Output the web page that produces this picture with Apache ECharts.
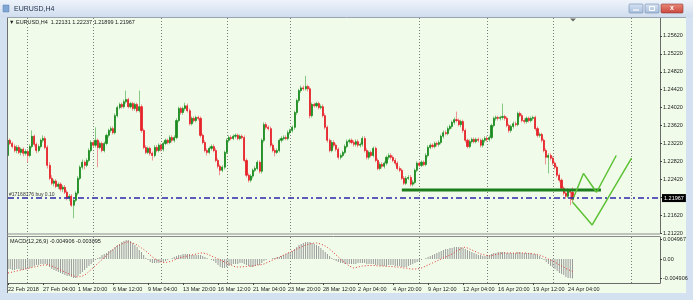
<!DOCTYPE html>
<html><head><meta charset="utf-8">
<script src="https://cdn.jsdelivr.net/npm/echarts@6.0.0/dist/echarts.min.js"></script>
<style>html,body{margin:0;padding:0;background:#d3e1f1}#c{width:693px;height:300px}</style>
</head><body><div id="c"></div><script>
// ---- data ----
const timeLabels = ["22 Feb 2018","27 Feb 04:00","1 Mar 20:00","6 Mar 12:00","9 Mar 04:00","13 Mar 20:00","16 Mar 12:00","21 Mar 04:00","23 Mar 20:00","28 Mar 12:00","2 Apr 04:00","4 Apr 20:00","9 Apr 12:00","12 Apr 04:00","16 Apr 20:00","19 Apr 12:00","24 Apr 04:00"];
const priceTicks = [1.2122,1.2162,1.2202,1.2242,1.2282,1.2322,1.2362,1.2402,1.2442,1.2482,1.2522,1.2562];
const macdTicks = [0.004967, 0, -0.004906];
// [open, close, low, high]
const candles = [
[1.2295,1.2329,1.2262,1.2346],[1.2329,1.2322,1.2318,1.2333],[1.2322,1.2315,1.2311,1.2326],[1.2315,1.2306,1.2302,1.2320],[1.2306,1.2313,1.2300,1.2318],[1.2313,1.2302,1.2298,1.2318],[1.2302,1.2309,1.2295,1.2313],[1.2309,1.2300,1.2293,1.2313],[1.2300,1.2304,1.2295,1.2309],[1.2304,1.2295,1.2280,1.2309],
[1.2295,1.2315,1.2291,1.2320],[1.2315,1.2338,1.2311,1.2351],[1.2338,1.2320,1.2315,1.2342],[1.2320,1.2306,1.2300,1.2324],[1.2306,1.2315,1.2302,1.2320],[1.2315,1.2329,1.2311,1.2333],[1.2329,1.2333,1.2324,1.2340],[1.2333,1.2313,1.2309,1.2338],[1.2313,1.2273,1.2266,1.2318],[1.2273,1.2244,1.2240,1.2280],
[1.2244,1.2233,1.2229,1.2251],[1.2233,1.2238,1.2226,1.2242],[1.2238,1.2226,1.2222,1.2242],[1.2226,1.2231,1.2220,1.2235],[1.2231,1.2220,1.2215,1.2235],[1.2220,1.2224,1.2213,1.2229],[1.2224,1.2213,1.2209,1.2229],[1.2213,1.2200,1.2195,1.2218],[1.2200,1.2204,1.2193,1.2209],[1.2204,1.2184,1.2180,1.2209],
[1.2184,1.2195,1.2155,1.2198],[1.2195,1.2211,1.2191,1.2215],[1.2211,1.2244,1.2206,1.2249],[1.2244,1.2269,1.2240,1.2273],[1.2269,1.2280,1.2264,1.2286],[1.2280,1.2273,1.2264,1.2284],[1.2273,1.2284,1.2269,1.2289],[1.2284,1.2306,1.2280,1.2311],[1.2306,1.2324,1.2302,1.2329],[1.2324,1.2318,1.2313,1.2329],
[1.2318,1.2329,1.2313,1.2358],[1.2329,1.2313,1.2269,1.2333],[1.2313,1.2322,1.2309,1.2326],[1.2322,1.2306,1.2302,1.2326],[1.2306,1.2322,1.2302,1.2326],[1.2322,1.2340,1.2318,1.2344],[1.2340,1.2351,1.2335,1.2355],[1.2351,1.2355,1.2346,1.2360],[1.2355,1.2346,1.2342,1.2360],[1.2346,1.2384,1.2342,1.2389],
[1.2384,1.2402,1.2380,1.2406],[1.2402,1.2409,1.2398,1.2413],[1.2409,1.2404,1.2400,1.2413],[1.2404,1.2415,1.2400,1.2420],[1.2415,1.2420,1.2411,1.2440],[1.2420,1.2404,1.2400,1.2424],[1.2404,1.2411,1.2400,1.2415],[1.2411,1.2400,1.2395,1.2415],[1.2400,1.2409,1.2395,1.2413],[1.2409,1.2395,1.2391,1.2413],
[1.2395,1.2404,1.2391,1.2440],[1.2404,1.2351,1.2346,1.2409],[1.2351,1.2313,1.2309,1.2355],[1.2313,1.2302,1.2298,1.2318],[1.2302,1.2311,1.2298,1.2315],[1.2311,1.2300,1.2295,1.2315],[1.2300,1.2295,1.2284,1.2304],[1.2295,1.2313,1.2291,1.2318],[1.2313,1.2306,1.2302,1.2318],[1.2306,1.2318,1.2302,1.2322],
[1.2318,1.2309,1.2304,1.2322],[1.2309,1.2322,1.2304,1.2326],[1.2322,1.2329,1.2318,1.2333],[1.2329,1.2324,1.2320,1.2333],[1.2324,1.2335,1.2320,1.2340],[1.2335,1.2329,1.2324,1.2340],[1.2329,1.2335,1.2324,1.2340],[1.2335,1.2373,1.2331,1.2378],[1.2373,1.2400,1.2369,1.2404],[1.2400,1.2391,1.2386,1.2404],
[1.2391,1.2400,1.2386,1.2404],[1.2400,1.2406,1.2395,1.2413],[1.2406,1.2395,1.2391,1.2411],[1.2395,1.2366,1.2362,1.2400],[1.2366,1.2378,1.2362,1.2382],[1.2378,1.2373,1.2369,1.2382],[1.2373,1.2380,1.2369,1.2384],[1.2380,1.2378,1.2373,1.2384],[1.2378,1.2340,1.2335,1.2382],[1.2340,1.2324,1.2320,1.2344],
[1.2324,1.2306,1.2302,1.2329],[1.2306,1.2302,1.2295,1.2311],[1.2302,1.2311,1.2298,1.2315],[1.2311,1.2315,1.2306,1.2320],[1.2315,1.2306,1.2302,1.2320],[1.2306,1.2284,1.2280,1.2311],[1.2284,1.2271,1.2266,1.2289],[1.2271,1.2262,1.2251,1.2275],[1.2262,1.2269,1.2258,1.2273],[1.2269,1.2302,1.2264,1.2306],
[1.2302,1.2329,1.2298,1.2333],[1.2329,1.2335,1.2324,1.2340],[1.2335,1.2333,1.2329,1.2340],[1.2333,1.2338,1.2329,1.2342],[1.2338,1.2340,1.2333,1.2344],[1.2340,1.2333,1.2329,1.2344],[1.2333,1.2338,1.2329,1.2342],[1.2338,1.2335,1.2331,1.2342],[1.2335,1.2284,1.2280,1.2340],[1.2284,1.2251,1.2246,1.2289],
[1.2251,1.2240,1.2235,1.2255],[1.2240,1.2249,1.2235,1.2253],[1.2249,1.2262,1.2244,1.2266],[1.2262,1.2266,1.2258,1.2271],[1.2266,1.2280,1.2262,1.2284],[1.2280,1.2260,1.2255,1.2284],[1.2260,1.2329,1.2255,1.2333],[1.2329,1.2364,1.2324,1.2369],[1.2364,1.2358,1.2353,1.2369],[1.2358,1.2355,1.2351,1.2362],
[1.2355,1.2318,1.2313,1.2360],[1.2318,1.2306,1.2302,1.2322],[1.2306,1.2302,1.2293,1.2311],[1.2302,1.2306,1.2298,1.2311],[1.2306,1.2329,1.2302,1.2333],[1.2329,1.2333,1.2324,1.2338],[1.2333,1.2335,1.2329,1.2340],[1.2335,1.2333,1.2329,1.2340],[1.2333,1.2346,1.2329,1.2351],[1.2346,1.2351,1.2342,1.2355],
[1.2351,1.2358,1.2346,1.2362],[1.2358,1.2391,1.2353,1.2395],[1.2391,1.2418,1.2386,1.2422],[1.2418,1.2440,1.2413,1.2444],[1.2440,1.2446,1.2435,1.2451],[1.2446,1.2444,1.2440,1.2451],[1.2444,1.2449,1.2440,1.2473],[1.2449,1.2444,1.2438,1.2453],[1.2444,1.2384,1.2378,1.2449],[1.2384,1.2409,1.2380,1.2413],
[1.2409,1.2406,1.2402,1.2413],[1.2406,1.2411,1.2402,1.2415],[1.2411,1.2402,1.2398,1.2415],[1.2402,1.2404,1.2398,1.2409],[1.2404,1.2384,1.2380,1.2409],[1.2384,1.2358,1.2353,1.2389],[1.2358,1.2329,1.2324,1.2362],[1.2329,1.2306,1.2302,1.2333],[1.2306,1.2324,1.2302,1.2329],[1.2324,1.2318,1.2313,1.2329],
[1.2318,1.2309,1.2304,1.2322],[1.2309,1.2291,1.2286,1.2313],[1.2291,1.2295,1.2286,1.2300],[1.2295,1.2302,1.2291,1.2306],[1.2302,1.2315,1.2298,1.2320],[1.2315,1.2326,1.2311,1.2331],[1.2326,1.2329,1.2322,1.2333],[1.2329,1.2324,1.2320,1.2333],[1.2324,1.2320,1.2315,1.2329],[1.2320,1.2326,1.2315,1.2331],
[1.2326,1.2318,1.2313,1.2331],[1.2318,1.2320,1.2313,1.2324],[1.2320,1.2333,1.2315,1.2338],[1.2333,1.2306,1.2302,1.2338],[1.2306,1.2291,1.2286,1.2311],[1.2291,1.2302,1.2286,1.2306],[1.2302,1.2295,1.2291,1.2306],[1.2295,1.2311,1.2291,1.2315],[1.2311,1.2284,1.2280,1.2315],[1.2284,1.2266,1.2262,1.2289],
[1.2266,1.2275,1.2262,1.2280],[1.2275,1.2271,1.2266,1.2280],[1.2271,1.2278,1.2266,1.2282],[1.2278,1.2291,1.2273,1.2295],[1.2291,1.2295,1.2286,1.2300],[1.2295,1.2291,1.2286,1.2300],[1.2291,1.2284,1.2280,1.2295],[1.2284,1.2278,1.2273,1.2289],[1.2278,1.2266,1.2262,1.2282],[1.2266,1.2262,1.2258,1.2271],
[1.2262,1.2244,1.2240,1.2266],[1.2244,1.2233,1.2229,1.2249],[1.2233,1.2244,1.2229,1.2249],[1.2244,1.2246,1.2240,1.2251],[1.2246,1.2231,1.2226,1.2251],[1.2231,1.2235,1.2226,1.2240],[1.2235,1.2262,1.2231,1.2266],[1.2262,1.2278,1.2258,1.2282],[1.2278,1.2273,1.2269,1.2282],[1.2273,1.2280,1.2269,1.2284],
[1.2280,1.2275,1.2271,1.2284],[1.2275,1.2295,1.2271,1.2300],[1.2295,1.2313,1.2291,1.2318],[1.2313,1.2318,1.2309,1.2322],[1.2318,1.2315,1.2311,1.2322],[1.2315,1.2322,1.2311,1.2326],[1.2322,1.2320,1.2315,1.2326],[1.2320,1.2324,1.2315,1.2329],[1.2324,1.2338,1.2320,1.2342],[1.2338,1.2346,1.2333,1.2351],
[1.2346,1.2344,1.2340,1.2351],[1.2344,1.2355,1.2340,1.2360],[1.2355,1.2360,1.2351,1.2364],[1.2360,1.2369,1.2355,1.2373],[1.2369,1.2375,1.2364,1.2380],[1.2375,1.2373,1.2369,1.2393],[1.2373,1.2364,1.2360,1.2378],[1.2364,1.2371,1.2358,1.2375],[1.2371,1.2351,1.2346,1.2375],[1.2351,1.2329,1.2324,1.2355],
[1.2329,1.2315,1.2311,1.2333],[1.2315,1.2326,1.2311,1.2331],[1.2326,1.2331,1.2322,1.2335],[1.2331,1.2326,1.2322,1.2335],[1.2326,1.2331,1.2322,1.2335],[1.2331,1.2329,1.2324,1.2335],[1.2329,1.2318,1.2313,1.2333],[1.2318,1.2329,1.2313,1.2333],[1.2329,1.2333,1.2324,1.2338],[1.2333,1.2331,1.2326,1.2338],
[1.2331,1.2335,1.2326,1.2340],[1.2335,1.2362,1.2331,1.2366],[1.2362,1.2378,1.2358,1.2382],[1.2378,1.2380,1.2373,1.2384],[1.2380,1.2378,1.2373,1.2384],[1.2378,1.2380,1.2373,1.2384],[1.2380,1.2382,1.2375,1.2411],[1.2382,1.2378,1.2373,1.2386],[1.2378,1.2362,1.2358,1.2382],[1.2362,1.2351,1.2346,1.2366],
[1.2351,1.2360,1.2346,1.2364],[1.2360,1.2366,1.2355,1.2371],[1.2366,1.2364,1.2360,1.2371],[1.2364,1.2389,1.2360,1.2393],[1.2389,1.2384,1.2380,1.2393],[1.2384,1.2373,1.2369,1.2389],[1.2373,1.2371,1.2366,1.2378],[1.2371,1.2378,1.2366,1.2382],[1.2378,1.2373,1.2369,1.2382],[1.2373,1.2378,1.2369,1.2382],
[1.2378,1.2380,1.2373,1.2384],[1.2380,1.2355,1.2351,1.2384],[1.2355,1.2340,1.2335,1.2360],[1.2340,1.2342,1.2335,1.2346],[1.2342,1.2329,1.2324,1.2346],[1.2329,1.2306,1.2302,1.2333],[1.2306,1.2291,1.2275,1.2311],[1.2291,1.2295,1.2255,1.2300],[1.2295,1.2289,1.2284,1.2300],[1.2289,1.2278,1.2273,1.2293],
[1.2278,1.2269,1.2264,1.2282],[1.2269,1.2251,1.2246,1.2273],[1.2251,1.2240,1.2235,1.2255],[1.2240,1.2222,1.2218,1.2244],[1.2222,1.2211,1.2206,1.2226],[1.2211,1.2204,1.2198,1.2215],[1.2204,1.2215,1.2200,1.2222],[1.2215,1.2213,1.2184,1.2220],[1.22131,1.21967,1.21899,1.22237]
];
const macdMain = [
-0.0025,-0.0025,-0.00275,-0.00275,-0.0025,-0.0025,-0.00275,-0.00275,-0.0025,-0.0025,
-0.00225,-0.002,-0.00175,-0.0015,-0.0015,-0.00125,-0.00125,-0.00125,
-0.0015,-0.002,-0.0025,-0.00275,-0.003,-0.00325,-0.0035,-0.00375,-0.004,-0.00425,-0.00425,-0.0045,-0.00475,-0.00475,
-0.00425,-0.00375,-0.00325,-0.00275,-0.00225,-0.00175,-0.00125,-0.00075,-0.00025,
0.00025,0.0005,0.001,0.00125,0.0015,0.002,0.00225,0.0025,0.003,0.0035,
0.00375,0.00425,0.0045,0.00475,0.00475,0.0045,0.004,0.0035,0.003,0.00225,
0.00175,0.001,0.00025,-0.00025,-0.00075,-0.001,-0.001,-0.001,-0.001,-0.00075,-0.00075,-0.0005,
-0.00025,0,0.00025,0.0005,0.00075,0.001,0.001,0.00125,0.00125,0.00125,0.00125,0.001,0.001,0.001,0.001,0.001,
0.00075,0.0005,0.00025,0,-0.00025,-0.0005,-0.001,-0.0015,-0.002,-0.00225,
-0.00225,-0.002,-0.00175,-0.0015,-0.00125,-0.00125,
-0.00125,-0.001,-0.001,-0.00125,-0.0015,-0.00175,-0.002,-0.002,-0.00175,-0.0015,-0.0015,-0.001,-0.0005,-0.00025,
0,0,0.00025,0.00025,0.0005,0.0005,0.00075,0.001,
0.00125,0.0015,0.00175,0.002,0.0025,0.003,0.0035,0.00375,0.004,0.00425,0.00425,0.00425,0.004,0.00375,0.0035,0.00325,0.00275,0.00225,
0.00175,0.00125,0.00075,0.00025,-0.00025,-0.0005,-0.00075,-0.001,-0.001,-0.00125,-0.00125,-0.00125,
-0.00125,-0.00125,-0.00125,-0.001,-0.001,-0.001,-0.001,-0.00125,-0.00125,-0.00125,-0.00125,-0.0015,-0.0015,-0.00175,-0.00175,-0.00175,-0.00175,-0.0015,-0.0015,-0.0015,-0.00175,-0.00175,-0.00175,-0.002,-0.002,-0.002,-0.00175,-0.0015,-0.00125,-0.001,-0.00075,-0.0005,-0.00025,0,
0.00025,0.0005,0.00075,0.001,0.00125,0.0015,0.00175,0.002,0.00225,0.0025,0.0025,0.00275,0.00275,0.003,0.003,0.003,0.003,0.00275,
0.0025,0.00225,0.002,0.00175,0.0015,0.00125,0.001,0.001,0.00075,0.00075,0.00075,0.001,
0.00125,0.0015,0.0015,0.00175,0.00175,0.00175,0.00175,0.0015,0.0015,0.0015,0.0015,0.0015,0.00175,0.00175,0.0015,0.0015,0.0015,0.0015,0.0015,0.00125,0.00125,0.001,0.00075,
0.00025,-0.00025,-0.00075,-0.00125,-0.00175,-0.002,-0.0025,-0.003,-0.0035,-0.00375,-0.004,-0.0045,-0.00475,-0.00475,-0.004906
];
const macdSignal = [
-0.0035,-0.00338,-0.00325,-0.00313,-0.003,-0.00288,-0.00275,-0.00263,-0.0025,-0.00238,-0.00225,-0.00213,-0.002,-0.00188,-0.00175,-0.00163,-0.0015,-0.0015,-0.0015,-0.0015,
-0.00175,-0.002,-0.00225,-0.0025,-0.00275,-0.003,-0.00325,-0.0035,-0.00375,-0.004,-0.00425,-0.00438,-0.0045,
-0.00438,-0.00425,-0.004,-0.00363,-0.00313,-0.00263,-0.00213,-0.00163,-0.00113,-0.00063,-0.00013,
0.00038,0.00088,0.00138,0.00188,0.00238,0.00288,0.00325,0.0035,0.00375,0.004,0.00425,
0.00425,0.00413,0.004,0.00375,0.0035,0.00313,0.00275,0.00238,0.002,0.0015,0.001,0.0005,0.00013,-0.00025,-0.0005,-0.00075,-0.00088,-0.00088,-0.00075,
-0.00063,-0.0005,-0.00025,0,0.00025,0.00038,0.0005,0.00063,0.00075,0.00088,0.001,0.00113,0.00125,0.00138,0.0015,0.0015,
0.00138,0.00125,0.001,0.00075,0.0005,0.00025,0,-0.00025,-0.0005,-0.00075,-0.001,-0.00125,-0.0015,-0.00175,-0.002,
-0.002,-0.002,-0.002,-0.00188,-0.00188,-0.00175,-0.00175,-0.00175,-0.00163,-0.0015,-0.0015,-0.00138,-0.00125,-0.001,-0.00075,-0.0005,-0.00025,0,0.00025,
0.0005,0.00075,0.001,0.00125,0.0015,0.00175,0.002,0.00225,0.0025,0.00275,0.003,0.00325,0.0035,0.00363,0.00375,0.00388,0.004,0.004,
0.00388,0.00375,0.0035,0.00325,0.00288,0.0025,0.002,0.0015,0.001,0.0005,0,-0.0005,-0.001,-0.00138,-0.00175,-0.002,-0.00225,
-0.00213,-0.002,-0.00188,-0.00175,-0.00175,-0.00163,-0.00163,-0.00163,-0.00163,-0.00163,-0.00175,-0.00175,-0.00175,-0.00175,-0.00188,-0.00188,-0.00188,-0.00188,-0.002,-0.002,-0.002,-0.00213,-0.00225,-0.00225,-0.00238,-0.0025,-0.0025,-0.0025,-0.0025,-0.00238,-0.00225,-0.002,
-0.00175,-0.0015,-0.00125,-0.001,-0.00075,-0.0005,-0.00025,0,0.00025,0.0005,0.00075,0.001,0.00125,0.00163,0.002,0.00225,0.0025,0.003,
0.00288,0.00275,0.0025,0.00225,0.002,0.00175,0.0015,0.00125,0.00113,0.001,0.00088,0.00075,
0.00088,0.001,0.00113,0.00125,0.00138,0.0015,0.0015,0.0015,0.0015,0.0015,0.0015,0.0015,0.0015,0.0015,0.0015,0.0015,0.0015,0.00138,0.00138,0.00125,0.00125,0.00113,0.001,
0.00075,0.0005,0.00025,0,-0.00025,-0.0005,-0.00075,-0.00113,-0.0015,-0.00175,-0.002,-0.00238,-0.00263,-0.00288,-0.003095
];
const gridBars = [9,39,70,100,129,188,219,249,285];
const supportLine = [[180,1.2218],[271,1.2218]];
const forecastUp = [[258,1.2195],[263,1.2255],[269,1.2213],[278,1.2295]];
const forecastDown = [[258,1.2191],[267,1.2140],[285,1.2289]];
const orderPrice = 1.2195;
const lastPrice = 1.21967;
const barCount = 299;
// ---------------------------------
const FONT = 'Liberation Sans';
const cats = Array.from({length: barCount}, (_, i) => String(i));
const bodies = candles.map(d => [d[0], d[1], Math.min(d[0], d[1]), Math.max(d[0], d[1])]);
const labelIdx = i => i % 16 === 0 && i / 16 < timeLabels.length;
const gridFn = i => gridBars.includes(i);

const chart = echarts.init(document.getElementById('c'), null, {renderer: 'canvas'});
chart.setOption({
  animation: false,
  backgroundColor: '#d3e1f1',
  grid: [
    {left: 8, right: 33, top: 18, height: 215},
    {left: 8, right: 33, top: 237, height: 46}
  ],
  xAxis: [
    {type: 'category', gridIndex: 0, data: cats, boundaryGap: false,
     axisLine: {show: false, onZero: false}, axisTick: {show: false}, axisLabel: {show: false},
     splitLine: {show: true, interval: gridFn, lineStyle: {color: '#7c7c7c', type: [1, 2], width: 1}}},
    {type: 'category', gridIndex: 1, data: cats, boundaryGap: false,
     axisLine: {show: true, onZero: false, lineStyle: {color: '#6a6a6a', width: 1}},
     axisTick: {show: true, interval: labelIdx, length: 2, lineStyle: {color: '#444'}},
     axisLabel: {show: true, interval: labelIdx, formatter: (v, i) => timeLabels[i / 16], align: 'left',
       fontSize: 5.5, fontFamily: FONT, color: '#222', margin: 3},
     splitLine: {show: true, interval: gridFn, lineStyle: {color: '#7c7c7c', type: [1, 2], width: 1}}}
  ],
  yAxis: [
    {type: 'value', gridIndex: 0, position: 'right', min: 1.2122, max: 1.2602, splitLine: {show: false},
     axisLine: {show: true, lineStyle: {color: '#6a6a6a'}},
     axisTick: {show: true, customValues: priceTicks, length: 2, lineStyle: {color: '#444'}},
     axisLabel: {customValues: priceTicks, formatter: v => v.toFixed(5), fontSize: 5.5, fontFamily: FONT, color: '#222', margin: 3}},
    {type: 'value', gridIndex: 1, position: 'right', min: -0.006, max: 0.0055, splitLine: {show: false},
     axisLine: {show: true, lineStyle: {color: '#6a6a6a'}},
     axisTick: {show: true, customValues: macdTicks, length: 2, lineStyle: {color: '#444'}},
     axisLabel: {customValues: macdTicks, formatter: v => (v === 0 ? '0.00' : v.toFixed(6)), fontSize: 5.5, fontFamily: FONT, color: '#222', margin: 3}}
  ],
  series: [
    {type: 'candlestick', name: 'wicks', xAxisIndex: 0, yAxisIndex: 0, data: candles, barWidth: 0.6, silent: true,
     itemStyle: {color: 'rgba(0,0,0,0)', color0: 'rgba(0,0,0,0)', borderColor: '#86c986', borderColor0: '#ef9595', borderWidth: 1},
     markLine: {symbol: 'none', silent: true, animation: false, data: [
       {yAxis: orderPrice, lineStyle: {color: '#2a2aa8', width: 1.5, type: [6, 3, 2, 3]},
        label: {show: true, position: 'insideStartTop', formatter: '#17168176 buy 0.10', fontSize: 5, fontFamily: FONT, color: '#333', distance: 1}},
       {yAxis: lastPrice, lineStyle: {color: 'rgba(0,0,0,0)', width: 0},
        label: {show: true, position: 'end', formatter: '1.21967', backgroundColor: '#000', color: '#fff', fontSize: 5.5, fontFamily: FONT, padding: [1, 2, 1, 2], distance: 2}}
     ]}},
    {type: 'candlestick', name: 'bodies', xAxisIndex: 0, yAxisIndex: 0, data: bodies, barWidth: 1.6, silent: true,
     itemStyle: {color: '#1c8a20', color0: '#e6232a', borderColor: '#1c8a20', borderColor0: '#e6232a', borderWidth: 0.8}},
    {type: 'line', xAxisIndex: 0, yAxisIndex: 0, data: supportLine, symbol: 'none', silent: true,
     lineStyle: {color: '#1c7d1c', width: 3}},
    {type: 'line', xAxisIndex: 0, yAxisIndex: 0, data: forecastUp, symbol: 'none', silent: true,
     lineStyle: {color: '#5cc234', width: 1.5}},
    {type: 'line', xAxisIndex: 0, yAxisIndex: 0, data: forecastDown, symbol: 'none', silent: true,
     lineStyle: {color: '#5cc234', width: 1.5}},
    {type: 'bar', xAxisIndex: 1, yAxisIndex: 1, data: macdMain, barWidth: 1, silent: true,
     itemStyle: {color: '#9a9a9a'}},
    {type: 'line', xAxisIndex: 1, yAxisIndex: 1, data: macdSignal, symbol: 'none', silent: true,
     lineStyle: {color: '#e0362e', width: 1, type: [1, 2]}}
  ],
  graphic: [
    {type: 'rect', z: -100, silent: true, shape: {x: 0, y: 0, width: 693, height: 17},
     style: {fill: {type: 'linear', x: 0, y: 0, x2: 0, y2: 1, colorStops: [{offset: 0, color: '#eef3fa'}, {offset: 1, color: '#d0ddee'}]}}},
    {type: 'rect', z: -100, silent: true, shape: {x: 7, y: 17, width: 679, height: 276}, style: {fill: '#f0fbea'}},
    {type: 'line', z: 10, silent: true, shape: {x1: 7.5, y1: 17, x2: 7.5, y2: 293}, style: {stroke: '#707070', lineWidth: 1}},
    {type: 'line', z: 10, silent: true, shape: {x1: 7, y1: 17.5, x2: 686, y2: 17.5}, style: {stroke: '#9aa4b0', lineWidth: 1}},
    {type: 'line', z: 10, silent: true, shape: {x1: 7, y1: 234, x2: 660, y2: 234}, style: {stroke: '#8c8c8c', lineWidth: 1}},
    {type: 'line', z: 10, silent: true, shape: {x1: 7, y1: 236.5, x2: 660, y2: 236.5}, style: {stroke: '#8c8c8c', lineWidth: 1}},
    {type: 'rect', z: 10, silent: true, shape: {x: 3, y: 5, width: 6, height: 7}, style: {fill: '#7fa6d4', stroke: '#5a7fae', lineWidth: 0.5}},
    {type: 'text', z: 10, silent: true, x: 14, y: 9, style: {text: 'EURUSD,H4', font: '7px Liberation Sans', fill: '#1d2d4a', verticalAlign: 'middle'}},
    {type: 'rect', z: 10, silent: true, shape: {x: 629, y: 4, width: 14, height: 9, r: 1},
     style: {fill: {type: 'linear', x: 0, y: 0, x2: 0, y2: 1, colorStops: [{offset: 0, color: '#d6e3f3'}, {offset: 1, color: '#a7bedc'}]}, stroke: '#6f89ad', lineWidth: 0.6}},
    {type: 'line', z: 11, silent: true, shape: {x1: 633, y1: 10, x2: 639, y2: 10}, style: {stroke: '#ffffff', lineWidth: 1.2}},
    {type: 'rect', z: 10, silent: true, shape: {x: 645, y: 4, width: 14, height: 9, r: 1},
     style: {fill: {type: 'linear', x: 0, y: 0, x2: 0, y2: 1, colorStops: [{offset: 0, color: '#d6e3f3'}, {offset: 1, color: '#a7bedc'}]}, stroke: '#6f89ad', lineWidth: 0.6}},
    {type: 'rect', z: 11, silent: true, shape: {x: 649.5, y: 6.5, width: 5, height: 4}, style: {fill: 'none', stroke: '#ffffff', lineWidth: 1}},
    {type: 'rect', z: 10, silent: true, shape: {x: 661, y: 4, width: 22, height: 9, r: 1},
     style: {fill: {type: 'linear', x: 0, y: 0, x2: 0, y2: 1, colorStops: [{offset: 0, color: '#e98a7c'}, {offset: 1, color: '#c9463a'}]}, stroke: '#8e3a32', lineWidth: 0.6}},
    {type: 'text', z: 11, silent: true, x: 672, y: 8.5, style: {text: 'x', font: 'bold 7px Liberation Sans', fill: '#ffffff', align: 'center', verticalAlign: 'middle'}},
    {type: 'polygon', z: 10, silent: true, shape: {points: [[570, 18.5], [576, 18.5], [573, 21.5]]}, style: {fill: '#6a6a6a'}},
    {type: 'text', z: 10, silent: true, x: 9, y: 22, style: {text: '\u25BC EURUSD,H4  1.22131 1.22237 1.21899 1.21967', font: '5.5px Liberation Sans', fill: '#1a1a1a', verticalAlign: 'middle'}},
    {type: 'text', z: 10, silent: true, x: 10, y: 241, style: {text: 'MACD(12,26,9) -0.004906 -0.003095', font: '5.5px Liberation Sans', fill: '#1a1a1a', verticalAlign: 'middle'}}
  ]
});
</script></body></html>
